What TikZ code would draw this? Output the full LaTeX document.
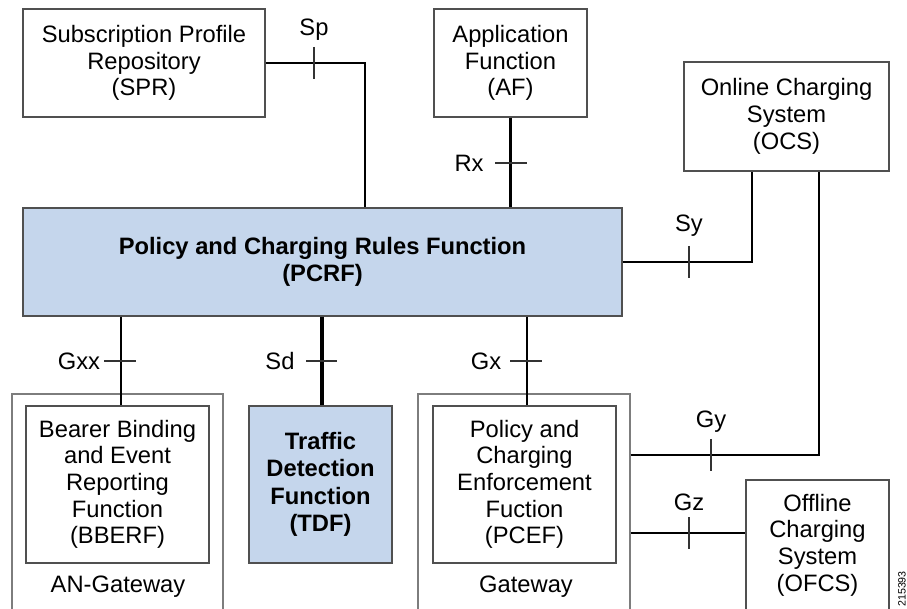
\documentclass[tikz,border=0pt]{standalone}
\usepackage{fontspec}
\setmainfont{Liberation Sans}
\usetikzlibrary{calc}
\newdimen\px \px=0.75pt
\definecolor{pblue}{RGB}{197,214,236}
\definecolor{bordergray}{RGB}{80,80,80}
\definecolor{outergray}{RGB}{125,125,125}
\begin{document}
\begin{tikzpicture}[x=0.75pt,y=-0.75pt,
  font=\fontsize{17.8}{20}\selectfont,
  box/.style={draw=bordergray, line width=1.1pt, align=center, inner sep=0pt},
  bluebox/.style={box, fill=pblue, font=\fontsize{17.8}{20.5}\selectfont\bfseries},
  outerbox/.style={draw=outergray, line width=1.1pt, inner sep=0pt},
  conn/.style={line width=1.6pt, black},
  thickconn/.style={line width=2.6pt, black},
  tickmark/.style={line width=0.8pt, black!80},
  lbl/.style={inner sep=0pt}]
\useasboundingbox (0,0) rectangle (907,609);
\clip (0,0) rectangle (907,609);

% outer gateway boxes
\node[outerbox, minimum width=211\px, minimum height=226\px] (angw) at (117.5,507) {};
\node[outerbox, minimum width=212\px, minimum height=226\px] (gw) at (524,507) {};

% boxes
\node[box, minimum width=242\px, minimum height=108\px] (spr) at (144,63)
  {Subscription Profile\\Repository\\(SPR)};
\node[box, minimum width=153\px, minimum height=108\px] (af) at (510.5,63)
  {Application\\Function\\(AF)};
\node[box, minimum width=205\px, minimum height=109\px] (ocs) at (786.5,116.5)
  {Online Charging\\System\\(OCS)};
\node[bluebox, minimum width=599\px, minimum height=108\px] (pcrf) at (322.5,262)
  {Policy and Charging Rules Function\\(PCRF)};
\node[box, minimum width=183\px, minimum height=157\px] (bberf) at (117.5,484.5)
  {Bearer Binding\\and Event\\Reporting\\Function\\(BBERF)};
\node[bluebox, minimum width=143\px, minimum height=157\px] (tdf) at (320.5,484.5)
  {Traffic\\Detection\\Function\\(TDF)};
\node[box, minimum width=183\px, minimum height=157\px] (pcef) at (524.5,484.5)
  {Policy and\\Charging\\Enforcement\\Fuction\\(PCEF)};
\node[box, minimum width=143\px, minimum height=130\px] (ofcs) at (817.5,545)
  {Offline\\Charging\\System\\(OFCS)};

\node[lbl] (angwlbl) at (118,587) {AN-Gateway};
\node[lbl] (gwlbl) at (526,587) {Gateway};

% tick positions
\coordinate (tsp) at (314,63);
\coordinate (trx) at (511,163);
\coordinate (tsy) at (689,262);
\coordinate (tgxx) at (121,361);
\coordinate (tsd) at (322,361);
\coordinate (tgx) at (527,361);
\coordinate (tgy) at (711,455);
\coordinate (tgz) at (689,533);
\coordinate (spx) at (365,63);
\coordinate (syx) at (752,262);
\coordinate (gyx) at (819,455);

% connectors
\draw[conn] (spr.east) -- (spx) -- (spx |- pcrf.north);
\draw[conn] (af.south) -- (af.south |- pcrf.north);
\draw[conn] (pcrf.east) -- (syx) -- (syx |- ocs.south);
\draw[conn] (tgxx |- pcrf.south) -- (tgxx |- bberf.north);
\draw[thickconn] (tsd |- pcrf.south) -- (tsd |- tdf.north);
\draw[conn] (tgx |- pcrf.south) -- (tgx |- pcef.north);
\draw[conn] (gyx -| gw.east) -- (gyx) -- (gyx |- ocs.south);
\draw[conn] (tgz -| gw.east) -- (tgz -| ofcs.west);

% ticks
\draw[tickmark] ($(tsp)+(0,-16)$) -- ($(tsp)+(0,16)$);
\draw[tickmark] ($(trx)+(-16,0)$) -- ($(trx)+(16,0)$);
\draw[tickmark] ($(tsy)+(0,-16)$) -- ($(tsy)+(0,16)$);
\draw[tickmark] ($(tgxx)+(-17,0)$) -- ($(tgxx)+(15,0)$);
\draw[tickmark] ($(tsd)+(-16,0)$) -- ($(tsd)+(15,0)$);
\draw[tickmark] ($(tgx)+(-17,0)$) -- ($(tgx)+(15,0)$);
\draw[tickmark] ($(tgy)+(0,-16)$) -- ($(tgy)+(0,16)$);
\draw[tickmark] ($(tgz)+(0,-16)$) -- ($(tgz)+(0,16)$);

% interface labels
\node[lbl] (sp) at (314,30) {Sp};
\node[lbl] (rx) at (469,163) {Rx};
\node[lbl] (sy) at (689,226) {Sy};
\node[lbl] (gxx) at (79,361) {Gxx};
\node[lbl] (sd) at (280,361) {Sd};
\node[lbl] (gx) at (486,361) {Gx};
\node[lbl] (gy) at (711,422) {Gy};
\node[lbl] (gz) at (689,502) {Gz};

% figure number
\node[lbl, rotate=90, anchor=west, font=\fontsize{8}{9}\selectfont] (fig) at (902,607) {215393};
\end{tikzpicture}
\end{document}
